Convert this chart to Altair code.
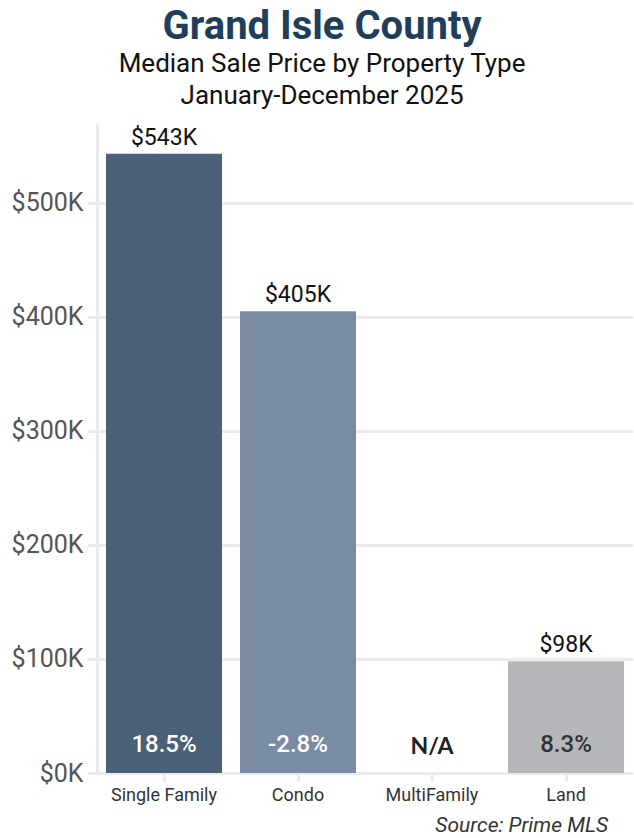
import altair as alt
import pandas as pd

types = ["Single Family", "Condo", "MultiFamily", "Land"]
median_price = [543000, 405000, None, 98000]
price_labels = ["$543K", "$405K", "", "$98K"]
pct_change = ["18.5%", "-2.8%", "N/A", "8.3%"]
bar_colors = ["#4a6178", "#7a8ca4", "#ffffff", "#b6b7ba"]
pct_colors = ["#ffffff", "#ffffff", "#222222", "#333333"]
y_ticks = [0, 100000, 200000, 300000, 400000, 500000]

df = pd.DataFrame({
    "type": types,
    "price": median_price,
    "label": price_labels,
    "pct": pct_change,
    "color": bar_colors,
    "pct_color": pct_colors,
})

W, H = 536, 650
FONT = "Roboto"

x_enc = alt.X("type:N", sort=types,
              scale=alt.Scale(paddingInner=0.134),
              axis=alt.Axis(title=None, labelFont=FONT, labelFontSize=18,
                            labelColor="#333333", domain=False,
                            tickColor="#ebebeb", tickWidth=3, tickSize=8,
                            labelPadding=5, labelAngle=0))
y_scale = alt.Scale(domain=[0, 570000], nice=False)

bars = alt.Chart(df).mark_bar().encode(
    x=x_enc,
    y=alt.Y("price:Q", scale=y_scale,
            axis=alt.Axis(title=None, values=y_ticks,
                          labelExpr="'$' + datum.value/1000 + 'K'",
                          labelFont=FONT, labelFontSize=25, labelColor="#555555",
                          gridColor="#ebebeb", gridWidth=3,
                          domainColor="#ebebeb", domainWidth=3,
                          tickColor="#ebebeb", tickWidth=3, tickSize=10,
                          labelPadding=4)),
    color=alt.Color("color:N", scale=None),
)

value_text = alt.Chart(df).mark_text(
    font=FONT, fontSize=23, color="#111111", baseline="alphabetic", dy=-9
).encode(
    x=alt.X("type:N", sort=types),
    y=alt.Y("price:Q", scale=y_scale),
    text="label:N",
)

pct_df = df[df["type"] != "MultiFamily"]
pct_text = alt.Chart(pct_df).mark_text(
    font=FONT, fontSize=24, fontWeight=500, baseline="middle", dy=-28
).encode(
    x=alt.X("type:N", sort=types),
    y=alt.datum(0),
    text="pct:N",
    color=alt.Color("pct_color:N", scale=None),
)

na_df = df[df["type"] == "MultiFamily"]
na_text = alt.Chart(na_df).mark_text(
    font="Lato", fontSize=23, fontWeight="bold", baseline="middle", dy=-26,
    color="#222222"
).encode(
    x=alt.X("type:N", sort=types),
    y=alt.datum(0),
    text="pct:N",
)

source = alt.Chart(pd.DataFrame({"t": ["Source: Prime MLS"]})).mark_text(
    font=FONT, fontSize=21, fontStyle="italic", color="#333333",
    align="right", baseline="alphabetic"
).encode(
    x=alt.value(W - 25), y=alt.value(H + 59), text="t:N"
)

chart = alt.layer(bars, value_text, pct_text, na_text, source).properties(
    width=W, height=H,
    autosize=alt.AutoSizeParams(type="none"),
    padding={"left": 97, "top": 123, "right": 1, "bottom": 65},
    title=alt.TitleParams(
        text="Grand Isle County",
        subtitle=["Median Sale Price by Property Type", "January-December 2025"],
        font=FONT, fontSize=40, fontWeight="bold", color="#1e3f5c",
        subtitleFont=FONT, subtitleFontSize=26, subtitleColor="#111111",
        subtitleLineHeight=32, subtitlePadding=4,
        anchor="middle", frame="bounds", offset=14,
    ),
).configure(background="white").configure_view(stroke=None)

chart.save("out.html", embed_options={"renderer": "svg", "actions": False})
